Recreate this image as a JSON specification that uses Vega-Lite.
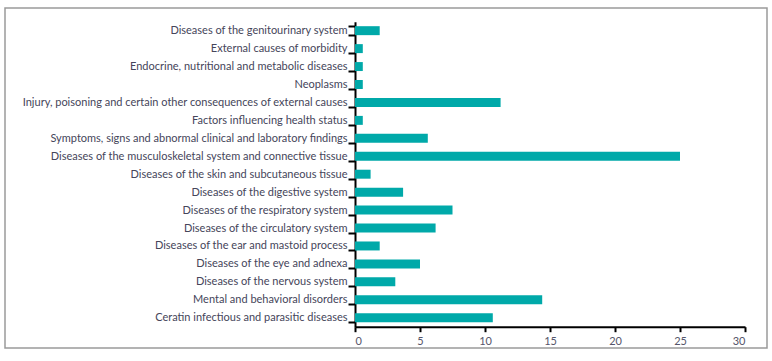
{
  "$schema": "https://vega.github.io/schema/vega-lite/v6.json",
  "autosize": "none",
  "width": 762,
  "height": 340,
  "padding": {"left": 5, "top": 8, "right": 5, "bottom": 13},
  "background": "white",
  "config": {
    "view": {"stroke": "#9a9a9a", "strokeWidth": 1.5},
    "font": "Lato"
  },
  "data": {
    "values": [
      {"category": "Diseases of the genitourinary system", "value": 1.9},
      {"category": "External causes of morbidity", "value": 0.6},
      {"category": "Endocrine, nutritional and metabolic diseases", "value": 0.6},
      {"category": "Neoplasms ", "value": 0.6},
      {"category": "Injury, poisoning and certain other consequences of external causes", "value": 11.2},
      {"category": "Factors influencing health status", "value": 0.6},
      {"category": "Symptoms, signs and abnormal clinical and laboratory findings", "value": 5.6},
      {"category": "Diseases of the musculoskeletal system and connective tissue", "value": 25.0},
      {"category": "Diseases of the skin and subcutaneous tissue", "value": 1.2},
      {"category": "Diseases of the digestive system", "value": 3.7},
      {"category": "Diseases of the respiratory system", "value": 7.5},
      {"category": "Diseases of the circulatory system", "value": 6.2},
      {"category": "Diseases of the ear and mastoid process", "value": 1.9},
      {"category": "Diseases of the eye and adnexa", "value": 5.0},
      {"category": "Diseases of the nervous system", "value": 3.1},
      {"category": "Mental and behavioral disorders ", "value": 14.4},
      {"category": "Ceratin infectious and parasitic diseases", "value": 10.6}
    ]
  },
  "mark": {"type": "bar", "color": "#00A9A9"},
  "encoding": {
    "y": {
      "field": "category",
      "type": "nominal",
      "sort": null,
      "title": null,
      "scale": {"range": [13.7, 318.7], "paddingInner": 0.5, "paddingOuter": 0.25},
      "axis": {
        "offset": -350,
        "domainColor": "#000",
        "domainWidth": 2,
        "tickColor": "#000",
        "tickWidth": 2,
        "tickSize": 7,
        "tickBand": "extent",
        "labelPadding": 1,
        "labelFontSize": 11,
        "labelColor": "#45455a",
        "labelLimit": 400
      }
    },
    "x": {
      "field": "value",
      "type": "quantitative",
      "title": null,
      "scale": {"domain": [0, 30], "range": [350, 740], "nice": false},
      "axis": {
        "offset": -21.3,
        "values": [0, 5, 10, 15, 20, 25, 30],
        "grid": false,
        "domainColor": "#000",
        "domainWidth": 2,
        "tickColor": "#000",
        "tickWidth": 2,
        "tickSize": 5,
        "labelPadding": 4,
        "labelFontSize": 11,
        "labelColor": "#55556a"
      }
    }
  }
}
